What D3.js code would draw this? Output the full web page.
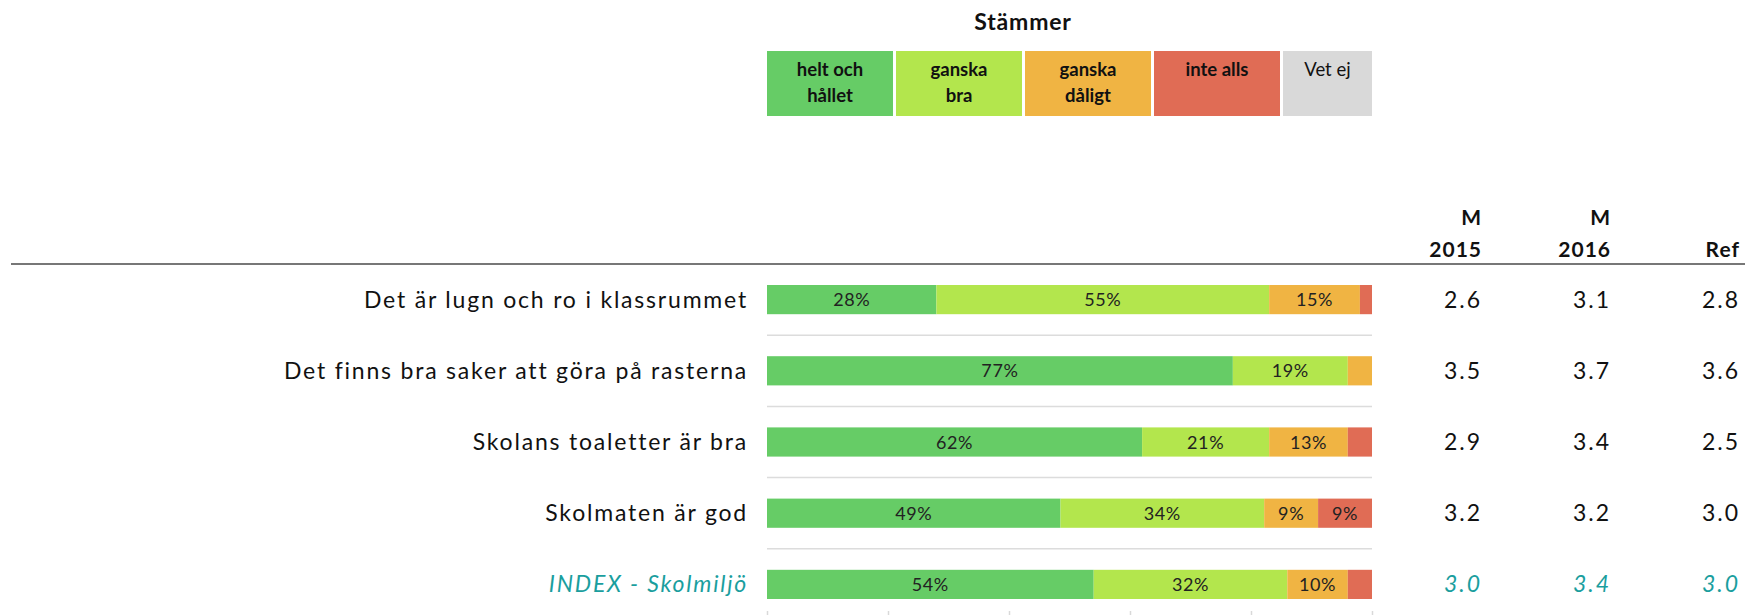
<!DOCTYPE html>
<html>
<head>
<meta charset="utf-8">
<script src="https://cdn.jsdelivr.net/npm/d3@7"></script>
<style>
  body { margin: 0; background: #fff; }
  svg { font-family: Lato, "Noto Sans", sans-serif; }
</style>
</head>
<body>
<svg id="chart"></svg>
<script>
// Chart data
const questions = [
  "Det är lugn och ro i klassrummet",
  "Det finns bra saker att göra på rasterna",
  "Skolans toaletter är bra",
  "Skolmaten är god",
  "INDEX - Skolmiljö"
];
const heltOchHallet = [28, 77, 62, 49, 54];
const ganskaBra = [55, 19, 21, 34, 32];
const ganskaDaligt = [15, 4, 13, 9, 10];
const inteAlls = [2, 0, 4, 9, 4];
const m2015 = [2.6, 3.5, 2.9, 3.2, 3.0];
const m2016 = [3.1, 3.7, 3.4, 3.2, 3.4];
const refValues = [2.8, 3.6, 2.5, 3.0, 3.0];

const legendTitle = "Stämmer";
const legendLabels = [["helt och", "hållet"], ["ganska", "bra"], ["ganska", "dåligt"], ["inte alls"], ["Vet ej"]];
const columnHeaders = [["M", "2015"], ["M", "2016"], ["Ref"]];

const keys = ["helt", "bra", "daligt", "inte"];
const colors = ["#66cc66", "#b3e64d", "#f0b443", "#e06c55", "#d9d9d9"];
const teal = "#1a9e9e";

const W = 1745, H = 615;
const svg = d3.select("#chart").attr("width", W).attr("height", H);

// build rows for the stack
const rows = questions.map((q, i) => ({
  q, helt: heltOchHallet[i], bra: ganskaBra[i], daligt: ganskaDaligt[i], inte: inteAlls[i]
}));
const series = d3.stack().keys(keys).offset(d3.stackOffsetExpand)(rows);

// Scales
const x = d3.scaleLinear().domain([0, 1]).range([767, 1372]);
const y = d3.scaleBand().domain(questions).range([264, 620]).paddingInner(0.59).paddingOuter(0.295);
const step = y.step();

// Top dark line
svg.append("line")
  .attr("x1", 11).attr("x2", W).attr("y1", 264).attr("y2", 264)
  .attr("stroke", "#777").attr("stroke-width", 2);

// Row separators
svg.append("g").selectAll("line")
  .data(questions.slice(0, -1))
  .join("line")
  .attr("x1", x(0)).attr("x2", x(1))
  .attr("y1", d => y(d) + y.bandwidth() / 2 + step / 2)
  .attr("y2", d => y(d) + y.bandwidth() / 2 + step / 2)
  .attr("stroke", "#dcdcdc").attr("stroke-width", 1.5);

// Bars
const layer = svg.append("g").selectAll("g")
  .data(series)
  .join("g")
  .attr("fill", (d, i) => colors[i]);

layer.selectAll("rect")
  .data(d => d)
  .join("rect")
  .attr("x", d => x(d[0]))
  .attr("y", d => y(d.data.q))
  .attr("width", d => x(d[1]) - x(d[0]))
  .attr("height", y.bandwidth());

layer.selectAll("text")
  .data(d => d.map(v => Object.assign(v, { key: d.key })))
  .join("text")
  .filter(d => d.data[d.key] >= 8)
  .attr("x", d => (x(d[0]) + x(d[1])) / 2)
  .attr("y", d => y(d.data.q) + y.bandwidth() / 2 + 6.5)
  .attr("text-anchor", "middle")
  .attr("fill", "#222")
  .attr("font-size", 18)
  .attr("letter-spacing", 0.6)
  .text(d => d.data[d.key] + "%");

// Axis ticks under bars
const axis = svg.append("g")
  .attr("transform", "translate(0,611)")
  .call(d3.axisBottom(x).ticks(5).tickSize(5).tickFormat(""));
axis.select(".domain").remove();
axis.selectAll(".tick line").attr("stroke", "#d9d9d9").attr("stroke-width", 1.5);

// Row labels
svg.append("g").selectAll("text")
  .data(questions)
  .join("text")
  .attr("x", 748)
  .attr("y", d => y(d) + y.bandwidth() / 2 + 8)
  .attr("text-anchor", "end")
  .attr("font-size", 23)
  .attr("letter-spacing", 1.8)
  .attr("font-style", (d, i) => i === questions.length - 1 ? "italic" : "normal")
  .attr("fill", (d, i) => i === questions.length - 1 ? teal : "#111")
  .text(d => d);

// Value columns
const colX = [1482, 1611, 1740];
[m2015, m2016, refValues].forEach((vals, c) => {
  svg.append("g").selectAll("text")
    .data(vals)
    .join("text")
    .attr("x", colX[c])
    .attr("y", (d, i) => y(questions[i]) + y.bandwidth() / 2 + 8)
    .attr("text-anchor", "end")
    .attr("font-size", 23)
    .attr("letter-spacing", 2)
    .attr("font-style", (d, i) => i === vals.length - 1 ? "italic" : "normal")
    .attr("fill", (d, i) => i === vals.length - 1 ? teal : "#111")
    .text(d => d3.format(".1f")(d));

  const hdr = columnHeaders[c];
  svg.append("g").selectAll("text")
    .data(hdr)
    .join("text")
    .attr("x", colX[c])
    .attr("y", (d, i) => 257 - (hdr.length - 1 - i) * 32)
    .attr("text-anchor", "end")
    .attr("font-size", 21)
    .attr("font-weight", "bold")
    .attr("letter-spacing", 1)
    .attr("fill", "#111")
    .text(d => d);
});

// Legend
svg.append("text")
  .attr("x", 1023).attr("y", 30)
  .attr("text-anchor", "middle")
  .attr("font-size", 23).attr("font-weight", "bold")
  .attr("letter-spacing", 0.8)
  .attr("fill", "#111")
  .text(legendTitle);

const gap = 3, boxW = 126;
const legend = svg.append("g").selectAll("g")
  .data(legendLabels)
  .join("g")
  .attr("transform", (d, i) => `translate(${x(0) + i * (boxW + gap)},51)`);

legend.append("rect")
  .attr("width", (d, i) => i === legendLabels.length - 1 ? x(1) - x(0) - i * (boxW + gap) : boxW)
  .attr("height", 65)
  .attr("fill", (d, i) => colors[i]);

legend.each(function (lines, i) {
  const w = i === legendLabels.length - 1 ? x(1) - x(0) - i * (boxW + gap) : boxW;
  d3.select(this).selectAll("text")
    .data(lines)
    .join("text")
    .attr("x", w / 2)
    .attr("y", (d, k) => 25 + k * 26)
    .attr("text-anchor", "middle")
    .attr("font-size", 18.5)
    .attr("font-weight", i === legendLabels.length - 1 ? "normal" : "bold")
    .attr("fill", "#111")
    .text(d => d);
});
</script>
</body>
</html>
